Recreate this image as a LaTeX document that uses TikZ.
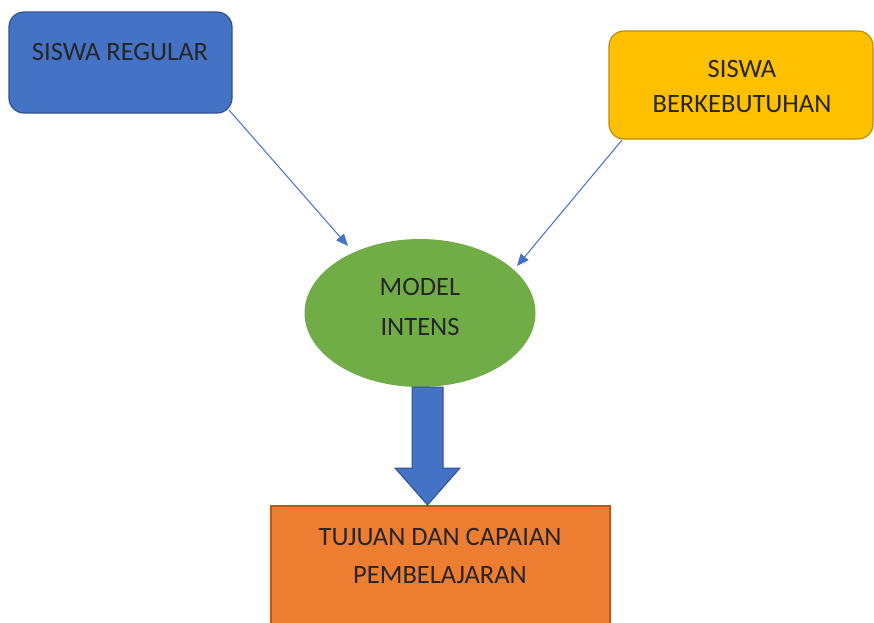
\documentclass[tikz,border=0pt]{standalone}
\usepackage{fontspec}
\setmainfont{Carlito}
\usetikzlibrary{shapes.geometric,arrows.meta}
\definecolor{cblue}{HTML}{4472C4}
\definecolor{cblueb}{HTML}{2F528F}
\definecolor{cyellow}{HTML}{FFC000}
\definecolor{cyellowb}{HTML}{BC8C00}
\definecolor{cgreen}{HTML}{70AD47}
\definecolor{corange}{HTML}{ED7D31}
\definecolor{corangeb}{HTML}{AE5A21}
\tikzset{
  lbl/.style={font=\fontsize{26.5}{38}\selectfont, text=black!85, align=center, inner sep=0pt},
  thinarrow/.style={draw=cblue, line width=1pt, -{Triangle[length=12pt,width=10pt]}},
}
\begin{document}
\begin{tikzpicture}[x=1pt,y=-1pt]
\useasboundingbox (0,0) rectangle (874,622);
% blue box
\draw[fill=cblue, draw=cblueb, line width=1.2pt, rounded corners=15pt] (9,12) rectangle (232,113);
\coordinate (rega) at (229,110);
\node[lbl] (reg) at (120,52) {SISWA REGULAR};
% yellow box
\draw[fill=cyellow, draw=cyellowb, line width=1.2pt, rounded corners=15pt] (609,31) rectangle (873,139);
\coordinate (bera) at (622,140);
\node[lbl, font=\fontsize{26.5}{35}\selectfont] (ber) at (742,86) {SISWA\\BERKEBUTUHAN};
% ellipse
\node[ellipse, fill=cgreen, minimum width=231pt, minimum height=148pt, inner sep=0pt] (model) at (420,313) {};
\node[lbl, font=\fontsize{26.5}{40}\selectfont] (modeltxt) at (420,307) {MODEL\\INTENS};
% orange
\draw[fill=corange, draw=corangeb, line width=1.2pt] (271,506) rectangle (610,640);
\node[lbl] (tuj) at (440,556) {TUJUAN DAN CAPAIAN\\PEMBELAJARAN};
% block arrow
\draw[fill=cblue, draw=cblueb, line width=1pt] (412,387) -- (443,387) -- (443,468) -- (460,468) -- (427.5,505) -- (395,468) -- (412,468) -- cycle;
% thin arrows
\coordinate (regb) at (348,246);
\coordinate (berb) at (517,266);
\draw[thinarrow] (rega) -- (regb);
\draw[thinarrow] (bera) -- (berb);
\end{tikzpicture}
\end{document}
